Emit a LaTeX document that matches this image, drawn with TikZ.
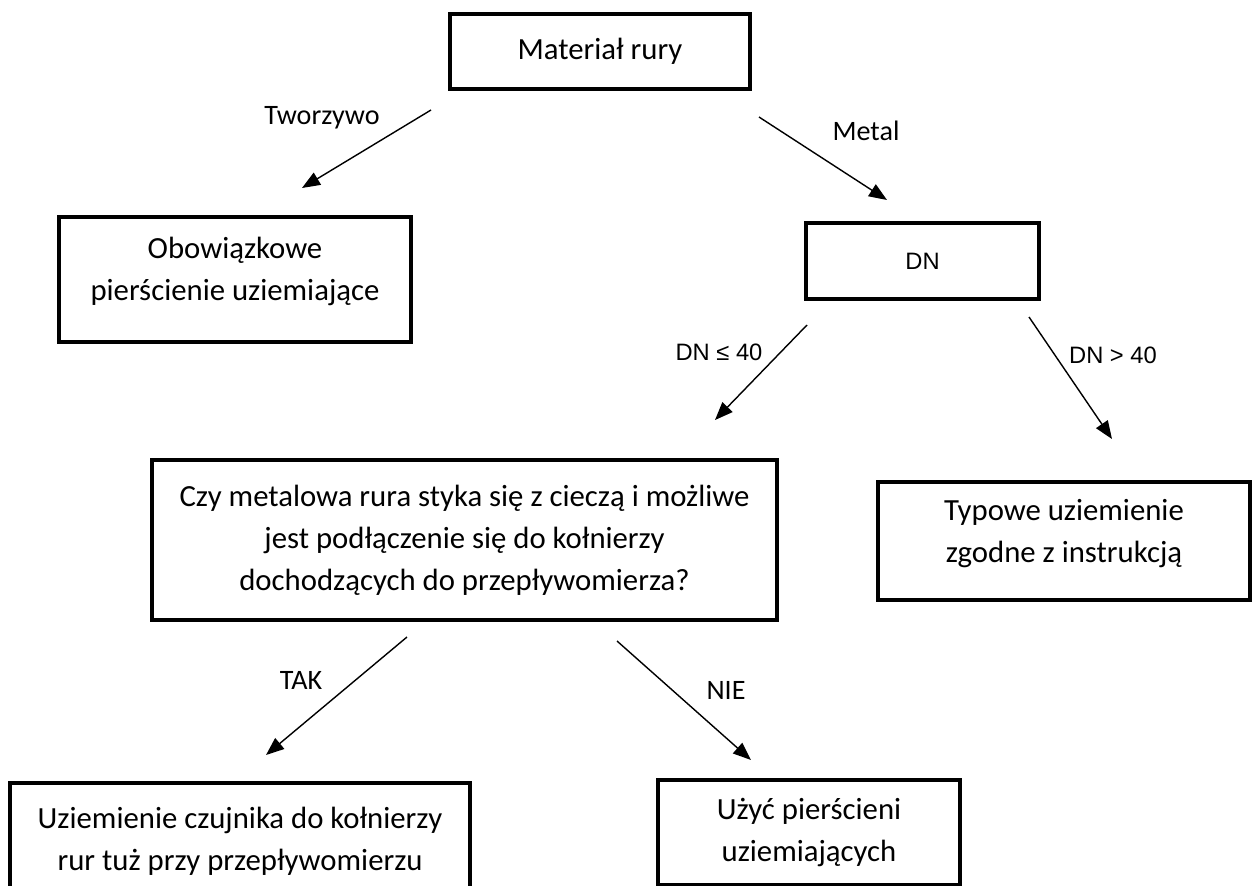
\documentclass[tikz,border=0pt]{standalone}
\usepackage{fontspec}
\setmainfont{Carlito}
\newfontfamily\arialfont{Liberation Sans}
\usetikzlibrary{arrows.meta}

\begin{document}
\begin{tikzpicture}[x=0.02cm, y=-0.02cm,
    decision/.style ={rectangle, draw, line width=2pt, align=center,
      font=\fontsize{17.5}{24}\selectfont},
    answer/.style ={font=\fontsize{16}{18}\selectfont},
    branch/.style ={line width=0.8pt, -{Triangle[length=0.36cm, width=0.28cm]}}]
   \useasboundingbox (0,0) rectangle (1252,886);
   \node[decision, minimum width=6cm, minimum height=1.5cm] (M) at (600,51.5) {Materiał rury};
   \node[decision, minimum width=7.04cm, minimum height=2.5cm, text depth=0.44cm] (O) at (235,279.5) {Obowiązkowe\\pierścienie uziemiające};
   \node[decision, minimum width=4.66cm, minimum height=1.52cm, font=\arialfont\fontsize{13.5}{16}\selectfont] (DN) at (922.5,261) {DN};
   \node[decision, minimum width=12.5cm, minimum height=3.2cm] (Q) at (464.5,540) {Czy metalowa rura styka się z cieczą i możliwe\\jest podłączenie się do kołnierzy\\dochodzących do przepływomierza?};
   \node[decision, minimum width=7.44cm, minimum height=2.36cm, text depth=0.4cm] (T) at (1064,541) {Typowe uziemienie\\zgodne z instrukcją};
   \node[decision, minimum width=9.2cm, minimum height=2.34cm] (U) at (240,841.5) {Uziemienie czujnika do kołnierzy\\rur tuż przy przepływomierzu};
   \node[decision, minimum width=6.04cm, minimum height=2.1cm] (P) at (809,832.5) {Użyć pierścieni\\uziemiających};

   % arrow ends
   \coordinate (M1) at (431,110);  \coordinate (O1) at (302,188);
   \coordinate (M2) at (759,117);  \coordinate (DN1) at (887,200);
   \coordinate (DN2) at (807,325); \coordinate (Q1) at (715,420);
   \coordinate (DN3) at (1029,317); \coordinate (T1) at (1112,439);
   \coordinate (Q2) at (407,637);  \coordinate (U1) at (266,755);
   \coordinate (Q3) at (617,641);  \coordinate (P1) at (751,760);

   \draw[branch] (M1) to (O1);
   \draw[branch] (M2) to (DN1);
   \draw[branch] (DN2) to (Q1);
   \draw[branch] (DN3) to (T1);
   \draw[branch] (Q2) to (U1);
   \draw[branch] (Q3) to (P1);

   \node[answer] (lt) at (322,118) {Tworzywo};
   \node[answer] (lm) at (866,131) {Metal};
   \node[font=\arialfont\fontsize{13.5}{16}\selectfont] (ls) at (719,352) {DN ≤ 40};
   \node[font=\arialfont\fontsize{13.5}{16}\selectfont] (lg) at (1113,355) {DN > 40};
   \node[answer] (ly) at (301,680) {TAK};
   \node[answer] (ln) at (726,690) {NIE};
 \end{tikzpicture}
\end{document}
